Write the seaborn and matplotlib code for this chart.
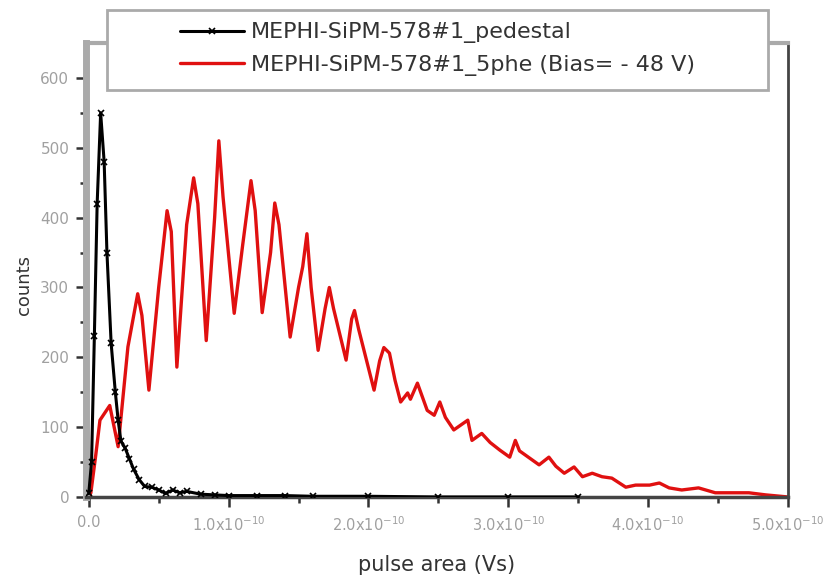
import matplotlib
import matplotlib.pyplot as plt
import numpy as np
import pandas as pd
import seaborn as sns
from matplotlib.patches import Rectangle

matplotlib.use("Agg")

# pulse area in units of 1e-10 Vs
ped_x = [0.00, 0.02, 0.04, 0.06, 0.085, 0.11, 0.13, 0.16, 0.19, 0.21, 0.23, 0.26,
         0.29, 0.32, 0.36, 0.40, 0.45, 0.50, 0.55, 0.60, 0.65, 0.70, 0.80, 0.90,
         1.00, 1.20, 1.40, 1.60, 2.00, 2.50, 3.00, 3.50]
ped_y = [5, 50, 230, 420, 550, 480, 350, 220, 150, 110, 80, 70,
         55, 40, 25, 15, 14, 10, 5, 10, 6, 8, 4, 3,
         2, 2, 2, 1, 1, 0, 0, 0]

phe_x = [0.00, 0.015, 0.05, 0.08, 0.15, 0.21, 0.28, 0.35, 0.38, 0.43, 0.50, 0.56,
         0.59, 0.63, 0.70, 0.75, 0.78, 0.84, 0.90, 0.93, 0.96, 1.04, 1.10, 1.16,
         1.19, 1.24, 1.30, 1.33, 1.36, 1.44, 1.50, 1.53, 1.56, 1.59, 1.64, 1.69,
         1.72, 1.75, 1.84, 1.88, 1.90, 1.93, 2.04, 2.08, 2.11, 2.15, 2.19, 2.23,
         2.28, 2.30, 2.35, 2.42, 2.47, 2.51, 2.55, 2.61, 2.71, 2.74, 2.81, 2.87,
         2.94, 3.01, 3.05, 3.08, 3.15, 3.22, 3.29, 3.34, 3.40, 3.47, 3.53, 3.60,
         3.67, 3.74, 3.84, 3.91, 4.01, 4.08, 4.15, 4.24, 4.36, 4.48, 4.60, 4.72,
         4.84, 5.00]
phe_y = [0, 6, 60, 110, 131, 72, 215, 291, 260, 153, 300, 410,
         380, 186, 390, 457, 420, 224, 400, 510, 430, 263, 360, 453,
         410, 264, 350, 421, 390, 229, 300, 330, 377, 300, 210, 270,
         300, 270, 196, 255, 267, 240, 153, 195, 214, 206, 167, 136,
         149, 140, 163, 124, 117, 136, 114, 96, 110, 81, 91, 78,
         67, 57, 81, 66, 56, 46, 57, 44, 34, 43, 29, 34,
         29, 27, 14, 17, 17, 20, 13, 10, 13, 6, 6, 6,
         3, 0]

x_ticks = [0, 1, 2, 3, 4, 5]
x_ticklabels = ["0.0"] + [f"{v:.1f}x10$^{{-10}}$" for v in x_ticks[1:]]
y_ticks = [0, 100, 200, 300, 400, 500, 600]

ped_label = "MEPHI-SiPM-578#1_pedestal"
phe_label = "MEPHI-SiPM-578#1_5phe (Bias= - 48 V)"

ped = pd.DataFrame({"area": np.array(ped_x) * 1e-10, "counts": ped_y})
phe = pd.DataFrame({"area": np.array(phe_x) * 1e-10, "counts": phe_y})

sns.set_theme(style="white")
plt.rcParams["font.family"] = ["DejaVu Sans"]

fig = plt.figure(figsize=(8.25, 5.76), dpi=100)
ax = fig.add_axes([0.1042, 0.1372, 0.851, 0.788])

sns.lineplot(data=phe, x="area", y="counts", sort=False, color="#e01010",
             linewidth=2.4, ax=ax, label=phe_label, zorder=2)
sns.lineplot(data=ped, x="area", y="counts", sort=False, color="black",
             linewidth=2.2, marker="x", markersize=4, markeredgewidth=1.2,
             markeredgecolor="black", ax=ax, label=ped_label, zorder=3)

ax.set_xlim(-0.02e-10, 5.0e-10)
ax.set_ylim(0, 650)
ax.set_xticks([v * 1e-10 for v in x_ticks])
ax.set_xticklabels(x_ticklabels)
ax.set_xticks([v * 1e-10 for v in np.arange(0.5, 5, 1.0)], minor=True)
ax.set_yticks(y_ticks)
ax.set_yticks(np.arange(50, 650, 100), minor=True)

ax.tick_params(axis="both", which="both", bottom=True, left=True,
               top=False, right=False)
ax.tick_params(axis="both", which="major", direction="out", length=7, width=1.8,
               color="#333333", labelcolor="#a0a0a0", labelsize=10.5)
ax.tick_params(axis="both", which="minor", direction="out", length=4, width=1.8,
               color="#333333")
ax.tick_params(axis="x", which="major", pad=6)
ax.tick_params(axis="y", which="major", labelsize=11, pad=5)

ax.spines["left"].set_color("#aaaaaa")
ax.spines["left"].set_linewidth(5)
ax.spines["top"].set_color("#aaaaaa")
ax.spines["top"].set_linewidth(3)
ax.spines["right"].set_color("#444444")
ax.spines["right"].set_linewidth(2)
ax.spines["bottom"].set_color("#444444")
ax.spines["bottom"].set_linewidth(2.5)

ax.set_xlabel("pulse area (Vs)", fontsize=15, color="#333333", labelpad=15)
ax.set_ylabel("counts", fontsize=13, color="#333333")
ax.yaxis.set_label_coords(-0.075, 0.467)

# legend box sits over the top of the frame
handles, labels = ax.get_legend_handles_labels()
ax.get_legend().remove()
box = Rectangle((107 / 825, 1 - 90 / 576), 661 / 825, 80 / 576,
                transform=fig.transFigure, facecolor="white",
                edgecolor="#aaaaaa", linewidth=2, zorder=5)
fig.patches.append(box)
leg = fig.legend(handles[::-1], labels[::-1], loc="center",
                 bbox_to_anchor=(437.5 / 825, 1 - 49 / 576), frameon=False,
                 fontsize=16, handlelength=2.9, handletextpad=0.3,
                 labelspacing=0.5, numpoints=1, labelcolor="#333333",
                 borderpad=0)
leg.set_zorder(6)

fig.savefig("out.png", dpi=100)
plt.close(fig)
